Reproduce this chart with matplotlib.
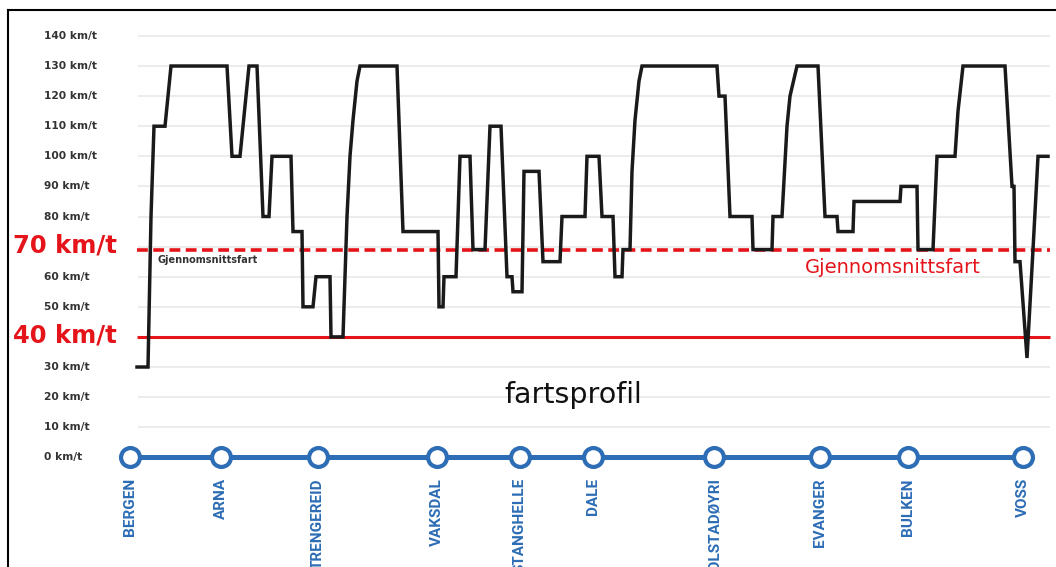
import matplotlib
matplotlib.use("Agg")
import matplotlib.pyplot as plt
from matplotlib.lines import Line2D

# ---------------- data ----------------
# position along the route (chart units, Bergen = 0) and speed in km/t
profile_pos = [7, 18, 21, 24, 35, 41, 97, 102, 110, 119, 127, 133, 139, 142, 161, 163,
               172, 173, 183, 186, 200, 201, 213, 217, 220, 223, 227, 230, 267, 273,
               308, 309, 313, 314, 326, 330, 340, 343, 355, 360, 371, 377, 382, 383,
               392, 394, 409, 413, 430, 432, 455, 457, 469, 472, 483, 485, 492, 493,
               500, 502, 505, 509, 512, 587, 589, 595, 600, 622, 623, 642, 643, 652,
               657, 660, 667, 688, 695, 707, 708, 723, 724, 770, 771, 787, 788, 803,
               807, 825, 828, 833, 875, 882, 884, 885, 890, 897, 903, 908, 918]
profile_speed = [30, 30, 80, 110, 110, 130, 130, 100, 100, 130, 130, 80, 80, 100, 100, 75,
                 75, 50, 50, 60, 60, 40, 40, 80, 100, 112, 125, 130, 130, 75,
                 75, 50, 50, 60, 60, 100, 100, 69, 69, 110, 110, 60, 60, 55,
                 55, 95, 95, 65, 65, 80, 80, 100, 100, 80, 80, 60, 60, 69,
                 69, 95, 112, 125, 130, 130, 120, 120, 80, 80, 69, 69, 80, 80,
                 110, 120, 130, 130, 80, 80, 75, 75, 85, 85, 90, 90, 69, 69,
                 100, 100, 115, 130, 130, 90, 90, 65, 65, 33, 69, 100, 100]

stations = ["BERGEN", "ARNA", "TRENGEREID", "VAKSDAL", "STANGHELLE", "DALE",
            "BOLSTADØYRI", "EVANGER", "BULKEN", "VOSS"]
station_pos = [0, 91, 188, 307, 390, 463, 584, 690, 778, 893]

tick_values = [140, 130, 120, 110, 100, 90, 80, 60, 50, 30, 20, 10, 0]
tick_labels = [f"{v} km/t" for v in tick_values]
grid_values = list(range(10, 150, 10))

avg_speed = 69          # dashed line "Gjennomsnittsfart" (labelled 70 km/t)
min_speed = 40

# ---------------- style ----------------
RED = "#e5141b"
BLUE = "#2d6db5"
DARK = "#333333"

fig = plt.figure(figsize=(10.56, 5.67), dpi=100)
ax = fig.add_axes([0, 0, 1, 1])
ax.set_xlim(-130, 926)
ax.set_ylim(-36.44, 151.93)
ax.axis("off")

x_start, x_end = 8, 920

# grid
ax.hlines(grid_values, x_start, x_end, colors="#ebebeb", linewidth=1.3, zorder=1)

# y tick labels
for v, lab in zip(tick_values, tick_labels):
    ax.text(-86, v, lab, ha="left", va="center", fontsize=7.7, fontweight="bold",
            color=DARK, zorder=5)

# reference lines
ax.hlines(avg_speed, x_start - 1, x_end, colors=RED, linewidth=2.6,
          linestyles=(0, (3.0, 1.5)), zorder=3)
ax.hlines(min_speed, x_start - 1, x_end, colors=RED, linewidth=2.2, zorder=3)

ax.text(-117, 67.9, "70 km/t", ha="left", va="baseline", fontsize=17.5,
        fontweight="bold", color=RED)
ax.text(-117, 38.0, "40 km/t", ha="left", va="baseline", fontsize=17.5,
        fontweight="bold", color=RED)

ax.text(28, 65.6, "Gjennomsnittsfart", ha="left", va="center", fontsize=7.0,
        fontweight="bold", color=DARK, zorder=5)
ax.text(675, 61.2, "Gjennomsnittsfart", ha="left", va="baseline", fontsize=14.0,
        color=RED, zorder=5)

# speed profile
ax.plot(profile_pos, profile_speed, color="#1a1a1a", linewidth=2.5,
        solid_joinstyle="miter", zorder=4)

ax.text(443, 18.0, "fartsprofil", ha="center", va="baseline", fontsize=20.5,
        color="#111111")

# station line
ax.plot([station_pos[0], station_pos[-1]], [0, 0], color=BLUE, linewidth=3.6,
        zorder=5, clip_on=False)
ax.plot(station_pos, [0] * len(station_pos), linestyle="none", marker="o",
        markersize=13.6, markerfacecolor="white", markeredgecolor=BLUE,
        markeredgewidth=3.0, zorder=6, clip_on=False)
for name, pos in zip(stations, station_pos):
    ax.text(pos, -6.9, name, rotation=90, ha="center", va="top", fontsize=11.0,
            fontweight="bold", color=BLUE, family=["Roboto", "DejaVu Sans"])

# frame (top and left edges visible)
fig.add_artist(Line2D([8 / 1056, 8 / 1056], [0, 1 - 9.5 / 567], color="black",
                      linewidth=1.5, transform=fig.transFigure))
fig.add_artist(Line2D([8 / 1056, 1], [1 - 9.5 / 567, 1 - 9.5 / 567], color="black",
                      linewidth=1.5, transform=fig.transFigure))

fig.savefig("out.png", dpi=100, facecolor="white")
